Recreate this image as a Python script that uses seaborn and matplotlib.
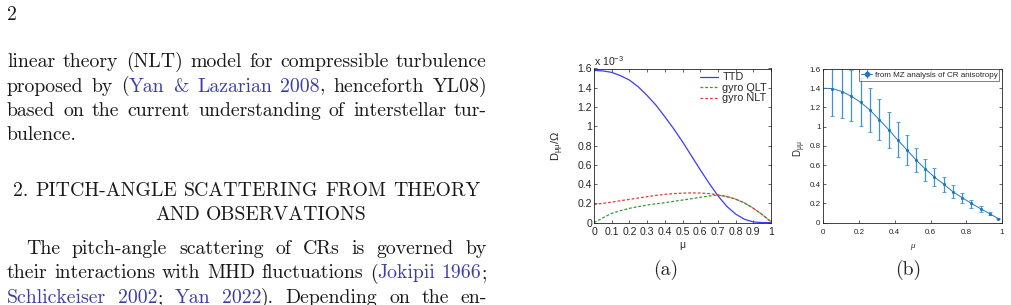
import matplotlib
matplotlib.use("Agg")
import matplotlib.pyplot as plt
import seaborn as sns
from matplotlib.ticker import FuncFormatter

# ---- data: panel (a), D_mumu / Omega in units of 1e-3
mu_a = [0, 0.05, 0.1, 0.15, 0.2, 0.25, 0.3, 0.35, 0.4, 0.45, 0.5,
        0.55, 0.6, 0.65, 0.7, 0.75, 0.8, 0.85, 0.9, 0.95, 1.0]
ttd = [1.58, 1.575, 1.56, 1.525, 1.48, 1.41, 1.32, 1.22, 1.10, 0.975, 0.84,
       0.695, 0.55, 0.41, 0.28, 0.17, 0.09, 0.035, 0.008, 0.001, 0.0]
gyro_qlt = [0.0, 0.05, 0.097, 0.125, 0.149, 0.167, 0.183, 0.196, 0.207, 0.221, 0.235,
            0.249, 0.263, 0.277, 0.287, 0.272, 0.245, 0.205, 0.15, 0.085, 0.01]
gyro_nlt = [0.19, 0.20, 0.214, 0.228, 0.242, 0.256, 0.27, 0.283, 0.294, 0.302, 0.307,
            0.309, 0.308, 0.302, 0.288, 0.27, 0.245, 0.205, 0.15, 0.085, 0.01]

# ---- data: panel (b), MZ analysis of CR anisotropy
mu_b = [0.051, 0.105, 0.157, 0.209, 0.26, 0.313, 0.366, 0.418, 0.468, 0.519,
        0.571, 0.621, 0.673, 0.725, 0.777, 0.829, 0.88, 0.931, 0.98]
d_b = [1.396, 1.365, 1.316, 1.253, 1.174, 1.073, 0.969, 0.858, 0.757, 0.653,
       0.559, 0.476, 0.403, 0.323, 0.26, 0.201, 0.146, 0.094, 0.042]
d_b_hi = [1.75, 1.72, 1.587, 1.503, 1.399, 1.285, 1.156, 1.045, 0.91, 0.781,
          0.667, 0.573, 0.476, 0.389, 0.3125, 0.24, 0.174, 0.111, 0.05]
d_b_lo = [1.115, 1.094, 1.056, 1.003, 0.941, 0.858, 0.778, 0.684, 0.604, 0.524,
          0.4375, 0.378, 0.316, 0.26, 0.201, 0.156, 0.115, 0.076, 0.035]
d_b_mu0 = 1.40

# ---- page text
page_no = "2"
para1 = [
    "linear theory (NLT) model for compressible turbulence",
    "proposed by (|Yan & Lazarian 2008|, henceforth YL08)",
    "based on the current understanding of interstellar tur-",
    "bulence.",
]
heading = ["2.  PITCH-ANGLE SCATTERING FROM THEORY", "AND OBSERVATIONS"]
para2 = [
    "The pitch-angle scattering of CRs is governed by",
    "their interactions with MHD fluctuations (|Jokipii 1966|;",
    "|Schlickeiser 2002|; |Yan 2022|).  Depending on the en-",
]

sns.set_style("ticks")
plt.rcParams['font.family'] = ['Liberation Sans', 'DejaVu Sans']
plt.rcParams.update({
    'xtick.direction': 'in', 'ytick.direction': 'in',
    'xtick.top': True, 'ytick.right': True,
    'axes.linewidth': 0.6, 'axes.edgecolor': '#222222',
    'xtick.major.size': 2.5, 'ytick.major.size': 2.5,
    'xtick.major.width': 0.5, 'ytick.major.width': 0.5,
    'mathtext.fontset': 'custom', 'mathtext.rm': 'Liberation Sans',
    'mathtext.it': 'Liberation Sans:italic',
})

W, H = 1011, 305
SERIF = ['cmr10', 'DejaVu Serif']
LINK = '#3d3da8'

fig = plt.figure(figsize=(W / 100, H / 100), dpi=100)
renderer = fig.canvas.get_renderer()


def fx(x):
    return x / W


def fy(y):
    return 1 - y / H


def measure(s, size):
    t = fig.text(0, 0, s, fontsize=size, family=SERIF)
    w = t.get_window_extent(renderer).width
    t.remove()
    return w


# body font size so that the first line fills the text column naturally
BODY = 10 * 476 / measure(para1[0], 10)


def split_words(line):
    words, cur, piece, blue = [], [], '', False
    for ch in line:
        if ch == '|':
            if piece:
                cur.append((piece, blue))
                piece = ''
            blue = not blue
        elif ch == ' ':
            if piece:
                cur.append((piece, blue))
                piece = ''
            if cur:
                words.append(cur)
                cur = []
        else:
            piece += ch
    if piece:
        cur.append((piece, blue))
    if cur:
        words.append(cur)
    return words


def text_line(line, x0, y, x1=None, align='justify', size=None):
    size = size or BODY
    words = split_words(line)
    widths = [[measure(p, size) for p, _ in w] for w in words]
    total = sum(sum(ws) for ws in widths)
    space = measure('a a', size) - measure('aa', size)
    if align == 'justify' and len(words) > 1:
        gap = (x1 - x0 - total) / (len(words) - 1)
    else:
        gap = space
    x = x0
    if align == 'center':
        x = x0 - (total + gap * (len(words) - 1)) / 2
    for w, ws in zip(words, widths):
        for (p, blue), pw in zip(w, ws):
            fig.text(fx(x), fy(y), p, fontsize=size, family=SERIF,
                     color=LINK if blue else '#1a1a1a', va='baseline', ha='left')
            x += pw
        x += gap


# page text on the left
text_line(page_no, 7, 20, align='left')
for i, ln in enumerate(para1):
    text_line(ln, 7, 67 + i * 24.5, 487, align='left' if i == len(para1) - 1 else 'justify')
text_line(heading[0], 13, 196, 480)
text_line(heading[1], 261, 220, align='center')
text_line(para2[0], 26, 254, 487)
text_line(para2[1], 7, 278.5, 487)
text_line(para2[2], 7, 303, 487)

# ---- panel (a)
ax_a = fig.add_axes([594 / W, 1 - 222.7 / H, 177 / W, 154.2 / H])
sns.lineplot(x=mu_a, y=ttd, ax=ax_a, color='#3a3aff', lw=0.9, label='TTD')
sns.lineplot(x=mu_a, y=gyro_qlt, ax=ax_a, color='#2f9a2f', lw=0.9,
             linestyle=(0, (2.2, 1.6)), label='gyro QLT')
sns.lineplot(x=mu_a, y=gyro_nlt, ax=ax_a, color='#e23a3a', lw=0.9,
             linestyle=(0, (2.2, 1.6)), label='gyro NLT')
ax_a.set_xlim(0, 1)
ax_a.set_ylim(0, 1.6)
ax_a.set_xticks([i / 10 for i in range(11)])
ax_a.set_yticks([i / 5 for i in range(9)])
fmt = FuncFormatter(lambda v, p: '%g' % round(v, 2))
ax_a.xaxis.set_major_formatter(fmt)
ax_a.yaxis.set_major_formatter(fmt)
ax_a.tick_params(axis='x', labelsize=7.6, pad=3)
ax_a.tick_params(axis='y', labelsize=7.6, pad=1.5)
ax_a.set_xlabel('μ', fontsize=7.5)
ax_a.xaxis.set_label_coords(0.5, -0.115)
ax_a.set_ylabel(r'D$_{\mathrm{μμ}}$/Ω', fontsize=8)
ax_a.yaxis.set_label_coords(-0.16, 0.5)
ax_a.text(0, 1.0, r'x 10$^{-3}$', transform=ax_a.transAxes, fontsize=7.6,
          ha='left', va='bottom')
ax_a.legend(frameon=False, loc='upper right', fontsize=7.8, handlelength=1.6,
            handletextpad=0.45, labelspacing=0.05, borderaxespad=0.15,
            borderpad=0.2)

# ---- panel (b)
blue = '#1f78c4'
ax_b = fig.add_axes([823.3 / W, 1 - 222.7 / H, 178.7 / W, 153.7 / H])
sns.lineplot(x=[0] + mu_b, y=[d_b_mu0] + d_b, ax=ax_b, color=blue, lw=0.7)
yerr = [[d - lo for d, lo in zip(d_b, d_b_lo)], [hi - d for d, hi in zip(d_b, d_b_hi)]]
ax_b.errorbar(mu_b, d_b, yerr=yerr, fmt='.', color=blue, ecolor='#3c93d6',
              elinewidth=0.9, capsize=1.6, capthick=0.6, markersize=2.5)
ax_b.errorbar([], [], yerr=[], fmt='.-', color=blue, lw=0.7, elinewidth=0.9,
              label='from MZ analysis of CR anisotropy')
ax_b.set_xlim(0, 1)
ax_b.set_ylim(0, 1.6)
ax_b.set_xticks([0, 0.2, 0.4, 0.6, 0.8, 1])
ax_b.set_yticks([i / 5 for i in range(9)])
ax_b.xaxis.set_major_formatter(fmt)
ax_b.yaxis.set_major_formatter(fmt)
ax_b.tick_params(axis='x', labelsize=5.8, pad=4.5)
ax_b.tick_params(axis='y', labelsize=5.8, pad=2)
ax_b.set_xlabel('μ', fontsize=5.8, style='italic')
ax_b.xaxis.set_label_coords(0.5, -0.13)
ax_b.set_ylabel(r'D$_{\mathrm{μμ}}$', fontsize=7)
ax_b.yaxis.set_label_coords(-0.085, 0.48)
leg = ax_b.legend(loc='upper right', bbox_to_anchor=(0.985, 1.0), borderaxespad=0,
                  fontsize=5.8, frameon=True, fancybox=False, handlelength=1.4,
                  handletextpad=0.3, borderpad=0.25)
leg.get_frame().set_edgecolor('#222222')
leg.get_frame().set_linewidth(0.5)

# captions
fig.text(fx(666), fy(270), '(a)', fontsize=BODY, family=SERIF, ha='center', va='center')
fig.text(fx(908), fy(270), '(b)', fontsize=BODY, family=SERIF, ha='center', va='center')

fig.savefig('out.png', dpi=100)
